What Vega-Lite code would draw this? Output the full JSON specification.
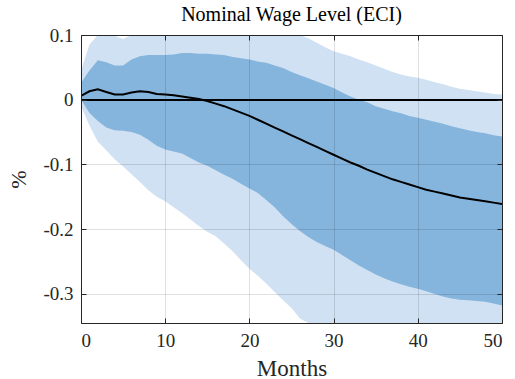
{
  "$schema": "https://vega.github.io/schema/vega-lite/v6.json",
  "width": 421,
  "height": 288,
  "autosize": {"type": "none"},
  "padding": {"left": 81, "top": 35, "right": 13, "bottom": 56},
  "background": "white",
  "config": {"view": {"stroke": null}, "title": {"font": "Liberation Serif", "fontWeight": "normal"}},
  "title": {"text": "Nominal Wage Level (ECI)", "font": "Liberation Serif", "fontSize": 20, "fontWeight": "normal", "color": "#000000", "baseline": "alphabetic", "offset": -15, "anchor": "middle"},
  "data": {"values": [
    {"m": 0, "lo90": -0.010, "hi90": 0.045, "lo68": 0.000, "hi68": 0.026, "irf": 0.006},
    {"m": 1, "lo90": -0.040, "hi90": 0.085, "lo68": -0.020, "hi68": 0.045, "irf": 0.013},
    {"m": 2, "lo90": -0.065, "hi90": 0.110, "lo68": -0.033, "hi68": 0.061, "irf": 0.016},
    {"m": 3, "lo90": -0.078, "hi90": 0.103, "lo68": -0.043, "hi68": 0.058, "irf": 0.012},
    {"m": 4, "lo90": -0.092, "hi90": 0.099, "lo68": -0.047, "hi68": 0.053, "irf": 0.008},
    {"m": 5, "lo90": -0.103, "hi90": 0.094, "lo68": -0.048, "hi68": 0.053, "irf": 0.008},
    {"m": 6, "lo90": -0.115, "hi90": 0.101, "lo68": -0.050, "hi68": 0.062, "irf": 0.011},
    {"m": 7, "lo90": -0.127, "hi90": 0.110, "lo68": -0.054, "hi68": 0.067, "irf": 0.013},
    {"m": 8, "lo90": -0.140, "hi90": 0.115, "lo68": -0.062, "hi68": 0.069, "irf": 0.012},
    {"m": 9, "lo90": -0.150, "hi90": 0.120, "lo68": -0.071, "hi68": 0.069, "irf": 0.009},
    {"m": 10, "lo90": -0.157, "hi90": 0.122, "lo68": -0.077, "hi68": 0.069, "irf": 0.008},
    {"m": 11, "lo90": -0.166, "hi90": 0.125, "lo68": -0.080, "hi68": 0.070, "irf": 0.007},
    {"m": 12, "lo90": -0.175, "hi90": 0.128, "lo68": -0.083, "hi68": 0.072, "irf": 0.005},
    {"m": 13, "lo90": -0.185, "hi90": 0.130, "lo68": -0.090, "hi68": 0.072, "irf": 0.003},
    {"m": 14, "lo90": -0.195, "hi90": 0.131, "lo68": -0.097, "hi68": 0.071, "irf": 0.001},
    {"m": 15, "lo90": -0.204, "hi90": 0.132, "lo68": -0.102, "hi68": 0.071, "irf": -0.002},
    {"m": 16, "lo90": -0.211, "hi90": 0.132, "lo68": -0.109, "hi68": 0.070, "irf": -0.006},
    {"m": 17, "lo90": -0.222, "hi90": 0.131, "lo68": -0.116, "hi68": 0.069, "irf": -0.010},
    {"m": 18, "lo90": -0.234, "hi90": 0.129, "lo68": -0.122, "hi68": 0.066, "irf": -0.015},
    {"m": 19, "lo90": -0.248, "hi90": 0.127, "lo68": -0.130, "hi68": 0.064, "irf": -0.020},
    {"m": 20, "lo90": -0.261, "hi90": 0.124, "lo68": -0.137, "hi68": 0.062, "irf": -0.025},
    {"m": 21, "lo90": -0.272, "hi90": 0.121, "lo68": -0.144, "hi68": 0.059, "irf": -0.031},
    {"m": 22, "lo90": -0.284, "hi90": 0.117, "lo68": -0.155, "hi68": 0.057, "irf": -0.037},
    {"m": 23, "lo90": -0.297, "hi90": 0.113, "lo68": -0.166, "hi68": 0.053, "irf": -0.043},
    {"m": 24, "lo90": -0.310, "hi90": 0.109, "lo68": -0.180, "hi68": 0.049, "irf": -0.049},
    {"m": 25, "lo90": -0.322, "hi90": 0.105, "lo68": -0.192, "hi68": 0.043, "irf": -0.055},
    {"m": 26, "lo90": -0.338, "hi90": 0.100, "lo68": -0.203, "hi68": 0.038, "irf": -0.061},
    {"m": 27, "lo90": -0.352, "hi90": 0.095, "lo68": -0.212, "hi68": 0.033, "irf": -0.067},
    {"m": 28, "lo90": -0.365, "hi90": 0.088, "lo68": -0.220, "hi68": 0.028, "irf": -0.073},
    {"m": 29, "lo90": -0.378, "hi90": 0.081, "lo68": -0.226, "hi68": 0.023, "irf": -0.079},
    {"m": 30, "lo90": -0.390, "hi90": 0.075, "lo68": -0.232, "hi68": 0.018, "irf": -0.085},
    {"m": 31, "lo90": -0.402, "hi90": 0.071, "lo68": -0.240, "hi68": 0.011, "irf": -0.091},
    {"m": 32, "lo90": -0.414, "hi90": 0.067, "lo68": -0.248, "hi68": 0.005, "irf": -0.097},
    {"m": 33, "lo90": -0.425, "hi90": 0.062, "lo68": -0.256, "hi68": 0.000, "irf": -0.102},
    {"m": 34, "lo90": -0.436, "hi90": 0.058, "lo68": -0.263, "hi68": -0.004, "irf": -0.108},
    {"m": 35, "lo90": -0.447, "hi90": 0.053, "lo68": -0.270, "hi68": -0.010, "irf": -0.113},
    {"m": 36, "lo90": -0.457, "hi90": 0.048, "lo68": -0.276, "hi68": -0.014, "irf": -0.118},
    {"m": 37, "lo90": -0.467, "hi90": 0.043, "lo68": -0.281, "hi68": -0.018, "irf": -0.123},
    {"m": 38, "lo90": -0.477, "hi90": 0.039, "lo68": -0.285, "hi68": -0.021, "irf": -0.127},
    {"m": 39, "lo90": -0.486, "hi90": 0.036, "lo68": -0.289, "hi68": -0.025, "irf": -0.131},
    {"m": 40, "lo90": -0.495, "hi90": 0.034, "lo68": -0.292, "hi68": -0.028, "irf": -0.135},
    {"m": 41, "lo90": -0.504, "hi90": 0.031, "lo68": -0.296, "hi68": -0.031, "irf": -0.139},
    {"m": 42, "lo90": -0.512, "hi90": 0.027, "lo68": -0.300, "hi68": -0.034, "irf": -0.142},
    {"m": 43, "lo90": -0.520, "hi90": 0.024, "lo68": -0.304, "hi68": -0.037, "irf": -0.145},
    {"m": 44, "lo90": -0.528, "hi90": 0.020, "lo68": -0.307, "hi68": -0.041, "irf": -0.148},
    {"m": 45, "lo90": -0.535, "hi90": 0.017, "lo68": -0.309, "hi68": -0.044, "irf": -0.151},
    {"m": 46, "lo90": -0.542, "hi90": 0.015, "lo68": -0.310, "hi68": -0.047, "irf": -0.153},
    {"m": 47, "lo90": -0.549, "hi90": 0.013, "lo68": -0.311, "hi68": -0.050, "irf": -0.155},
    {"m": 48, "lo90": -0.555, "hi90": 0.011, "lo68": -0.312, "hi68": -0.052, "irf": -0.157},
    {"m": 49, "lo90": -0.561, "hi90": 0.009, "lo68": -0.315, "hi68": -0.055, "irf": -0.159},
    {"m": 50, "lo90": -0.567, "hi90": 0.008, "lo68": -0.318, "hi68": -0.057, "irf": -0.161}
  ]},
  "layer": [
    {
      "mark": {"type": "area", "color": "#cfe1f2", "clip": true, "opacity": 1},
      "encoding": {
        "x": {"field": "m", "type": "quantitative", "scale": {"domain": [0, 50], "nice": false, "zero": false},
          "axis": {"orient": "bottom", "values": [0, 10, 20, 30, 40, 50], "title": "Months", "grid": true, "gridColor": "#000000", "gridOpacity": 0.12, "zindex": 1,
            "tickSize": -5, "tickColor": "#262626", "domainColor": "#262626", "labelPadding": 13,
            "labelFont": "Liberation Serif", "labelFontSize": 19, "labelColor": "#262626", "titleFont": "Liberation Serif", "titleFontSize": 23, "titleFontWeight": "normal", "titleColor": "#262626", "titlePadding": 7}},
        "y": {"field": "lo90", "type": "quantitative", "scale": {"domain": [-0.345, 0.1], "nice": false, "zero": false, "clamp": true},
          "axis": {"orient": "left", "values": [-0.3, -0.2, -0.1, 0, 0.1], "title": "%", "grid": true, "gridColor": "#000000", "gridOpacity": 0.12, "zindex": 1,
            "labelExpr": "datum.value == 0 ? '0' : (datum.value < 0 ? '-' + format(-datum.value, '.1f') : format(datum.value, '.1f'))",
            "tickSize": -5, "tickColor": "#262626", "domainColor": "#262626", "labelPadding": 13,
            "labelFont": "Liberation Serif", "labelFontSize": 19, "labelColor": "#262626", "titleFont": "Liberation Serif", "titleFontSize": 22, "titleFontWeight": "normal", "titleColor": "#262626", "titlePadding": 12}},
        "y2": {"field": "hi90"}
      }
    },
    {
      "mark": {"type": "area", "color": "#85b4dc", "clip": true, "opacity": 1},
      "encoding": {
        "x": {"field": "m", "type": "quantitative", "axis": null},
        "y": {"field": "lo68", "type": "quantitative", "axis": null},
        "y2": {"field": "hi68"}
      }
    },
    {
      "mark": {"type": "rule", "color": "#000000", "strokeWidth": 1},
      "encoding": {"y": {"datum": 0, "type": "quantitative", "axis": null}}
    },
    {
      "mark": {"type": "line", "color": "#000000", "strokeWidth": 2, "clip": true},
      "encoding": {
        "x": {"field": "m", "type": "quantitative",
          "axis": {"orient": "top", "values": [0, 10, 20, 30, 40, 50], "title": null, "labels": false, "grid": false, "tickSize": -5, "tickColor": "#262626", "domainColor": "#262626", "zindex": 1}},
        "y": {"field": "irf", "type": "quantitative",
          "axis": {"orient": "right", "values": [-0.3, -0.2, -0.1, 0, 0.1], "title": null, "labels": false, "grid": false, "tickSize": -5, "tickColor": "#262626", "domainColor": "#262626", "zindex": 1}}
      }
    }
  ],
  "resolve": {"axis": {"x": "independent", "y": "independent"}}
}
